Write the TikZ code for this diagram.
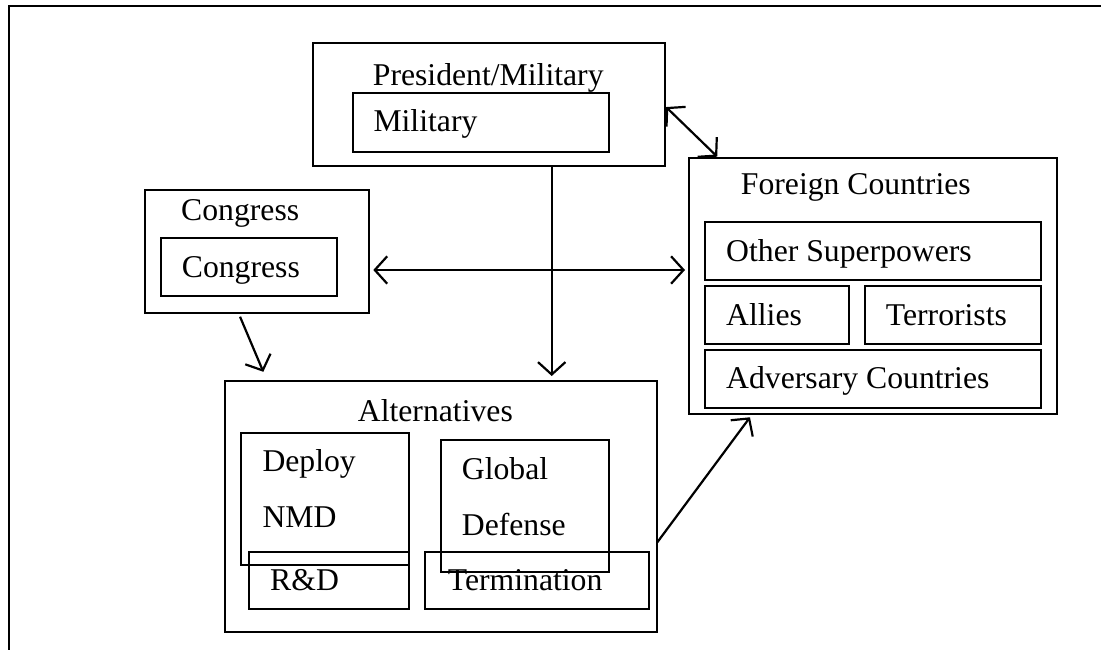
\documentclass[tikz,border=0pt]{standalone}
\usepackage{fontspec}
\setmainfont{Liberation Serif}
\usetikzlibrary{arrows.meta}
\begin{document}
\begin{tikzpicture}[x=1pt,y=-1pt,
  box/.style={draw, line width=2.2pt, anchor=north west, inner sep=0pt, outer sep=0pt},
  lbl/.style={anchor=base west, inner sep=0pt, font=\fontsize{31.7}{38}\selectfont},
  barb/.tip={Straight Barb[length=12.4pt,width=27.4pt]},
  conn/.style={line width=2.2pt, -barb},
  conn2/.style={line width=2.2pt, barb-barb}]
\useasboundingbox (0,0) rectangle (1101,650);
\draw[line width=2.2pt] (1110,6) -- (9,6) -- (9,660);

% President / Military
\node[box, minimum width=352.3pt, minimum height=123pt] (pres) at (312.7,42.7) {};
\node[box, minimum width=256.3pt, minimum height=58.4pt] (mil) at (352.7,93.3) {};
\node[lbl] (presT) at (372.7,86) {President/Military};
\node[lbl] (milT) at (373.3,131.7) {Military};

% Congress
\node[box, minimum width=224pt, minimum height=123.3pt] (cong) at (145,190) {};
\node[box, minimum width=176.6pt, minimum height=58pt] (congin) at (160.7,237.7) {};
\node[lbl] (congT) at (181,221) {Congress};
\node[lbl] (conginT) at (181.7,277.7) {Congress};

% Alternatives
\node[box, minimum width=432.3pt, minimum height=250.7pt] (alt) at (225,381) {};
\node[lbl] (altT) at (357.7,421.7) {Alternatives};
\node[box, minimum width=168pt, minimum height=131.7pt] (deploy) at (241,433.3) {};
\node[box, minimum width=160pt, minimum height=57pt] (rd) at (249,552.3) {};
\node[box, minimum width=168pt, minimum height=131.7pt] (global) at (441,440) {};
\node[box, minimum width=224.3pt, minimum height=57pt] (term) at (424.7,552.3) {};
\node[lbl] (deployT) at (262.3,471.7) {Deploy};
\node[lbl] (nmdT) at (262.3,527.7) {NMD};
\node[lbl] (rdT) at (270,590.7) {R\&D};
\node[lbl] (globalT) at (461.7,479.3) {Global};
\node[lbl] (defT) at (461.7,535) {Defense};
\node[lbl] (termT) at (447.7,590.7) {Termination};

% Foreign Countries
\node[box, minimum width=368.3pt, minimum height=256.6pt] (foreign) at (689,157.7) {};
\node[lbl] (foreignT) at (740.7,195) {Foreign Countries};
\node[box, minimum width=336.6pt, minimum height=57.7pt] (sup) at (704.7,222.3) {};
\node[box, minimum width=144.6pt, minimum height=58pt] (allies) at (704.7,286) {};
\node[box, minimum width=176.6pt, minimum height=58pt] (terr) at (864.7,286) {};
\node[box, minimum width=336.6pt, minimum height=57.7pt] (adv) at (704.7,350) {};
\node[lbl] (supT) at (726,261) {Other Superpowers};
\node[lbl] (alliesT) at (726,325) {Allies};
\node[lbl] (terrT) at (885.7,325) {Terrorists};
\node[lbl] (advT) at (726,388.3) {Adversary Countries};

% Connectors
\draw[conn2, shorten <=1.5pt, shorten >=1.5pt] ([yshift=-63.3pt]pres.north east) -- ([xshift=29.3pt]foreign.north west);
\draw[conn, shorten >=5pt] ([xshift=239pt]pres.south west) -- ([xshift=326.7pt]alt.north west);
\draw[conn2, shorten <=4.3pt, shorten >=4pt] ([yshift=-80pt]cong.north east) -- ([yshift=-112.3pt]foreign.north west);
\draw[conn, shorten <=3.7pt, shorten >=10pt] ([xshift=93.6pt]cong.south west) -- ([xshift=42.2pt]alt.north west);
\draw[conn, shorten >=3.7pt] ([yshift=-161.3pt]alt.north east) -- ([xshift=63.2pt]foreign.south west);
\end{tikzpicture}
\end{document}
